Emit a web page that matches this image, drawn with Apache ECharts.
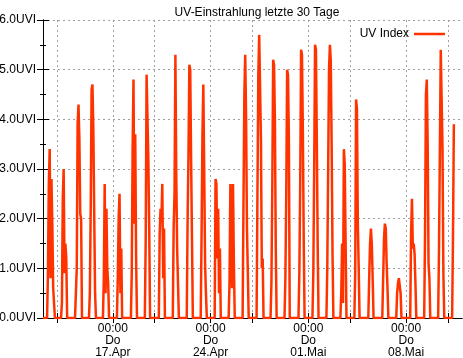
<!DOCTYPE html>
<html>
<head>
<meta charset="utf-8">
<script src="https://cdn.jsdelivr.net/npm/echarts@6/dist/echarts.min.js"></script>
<style>
  html, body { margin: 0; padding: 0; background: #fff; }
  #chart { width: 463px; height: 358px; }
</style>
</head>
<body>
<div id="chart"></div>
<script>
(() => {
  "use strict";

  // hours since 12.Apr 00:00; each day lists readings every 90 min from 07:00 on
  const firstHour = 7;
  const stepHours = 1.5;
  const uvDays = [
    [0, 0.9, 2.7, 3.4, 0.8, 2.8, 1.9, 0.6, 0.6, 0],
    [0, 0.3, 2.4, 3.0, 0.9, 1.5, 1.2, 0],
    [0, 0, 1.0, 3.9, 4.3, 3.6, 2.1, 2.0, 0],
    [0, 0.5, 2.2, 4.6, 4.7, 3.8, 2.1, 0.5, 0],
    [0, 0.8, 2.7, 0.5, 2.2, 1.0, 0.7, 0],
    [0, 0.8, 2.0, 2.5, 0.5, 1.4, 0],
    [0, 0.9, 3.4, 4.8, 1.9, 3.7, 1.2, 0],
    [0, 1.6, 4.9, 4.9, 3.2, 1.8, 0],
    [0, 1.7, 2.2, 2.0, 2.7, 0.8, 1.8, 0],
    [0, 1.8, 2.5, 5.3, 2.9, 1.4, 1.4, 0],
    [0, 2.0, 3.3, 5.1, 5.0, 3.2, 1.6, 0],
    [0, 1.7, 3.7, 4.7, 3.0, 1.1, 0.5, 0],
    [0, 2.8, 2.7, 1.2, 2.2, 0.5, 1.4, 0],
    [0, 0.7, 2.7, 2.7, 0.6, 2.7, 1.1, 0],
    [0, 2.3, 4.5, 5.3, 4.0, 1.8, 1.8, 0],
    [0, 2.5, 4.9, 5.7, 5.7, 3.6, 1.0, 1.2, 0],
    [0, 0.7, 2.6, 5.2, 5.1, 4.0, 1.4, 0],
    [0, 0.8, 2.5, 5.0, 4.9, 3.6, 0],
    [0, 0.9, 2.7, 5.4, 5.3, 3.8, 1.6, 0],
    [0, 0.9, 3.0, 5.5, 5.4, 3.6, 1.5, 0],
    [0, 1.0, 3.0, 5.0, 5.5, 5.2, 3.5, 1.3, 0],
    [0, 0.5, 1.5, 0.3, 3.4, 3.1, 1.5, 0],
    [0, 0.9, 4.4, 4.2, 1.9, 1.0, 0],
    [0, 0.8, 1.5, 1.8, 1.5, 0.8, 0],
    [0, 0, 1.6, 1.9, 1.8, 1.1, 0.6, 0],
    [0, 0.5, 0.7, 0.8, 0.8, 0.5, 0],
    [0, 1.7, 2.4, 1.4, 1.5, 1.3, 0.7, 0],
    [0, 1.7, 4.5, 4.8, 3.5, 1.1, 0.8, 0],
    [0, 1.4, 3.4, 5.4, 4.4, 3.4, 0.9, 0],
    [0, 1.6, 3.9],
  ];

  const labelHours = [120, 288, 456, 624];
  const tickLabels = ["17.Apr", "24.Apr", "01.Mai", "08.Mai"];
  const weekday = "Do";
  const gridHours = [24, 120, 192, 288, 360, 456, 528, 624, 696];
  const yMax = 6;

  const font = "Liberation Sans";
  const red = "#ff3300";
  const gridLine = { show: true, lineStyle: { color: "#a0a0a0", width: 1, type: [2, 3] } };

  const points = [];
  uvDays.forEach((day, d) => {
    points.push([d * 24, 0]);
    day.forEach((v, k) => points.push([d * 24 + firstHour + k * stepHours, v]));
  });

  const xLabel = (value) => {
    const i = labelHours.indexOf(value);
    return i < 0 ? "" : `00:00\n${weekday}\n${tickLabels[i]}`;
  };

  const baseX = {
    type: "value",
    min: 0,
    max: uvDays.length * 24,
    axisLine: { show: true, lineStyle: { color: "#000", width: 1 } },
    axisTick: { show: true, inside: true, length: 5, customValues: gridHours, lineStyle: { color: "#000" } },
  };
  const baseY = {
    type: "value",
    min: 0,
    max: yMax,
    interval: 1,
    axisLine: { show: true, lineStyle: { color: "#000", width: 1 } },
    axisTick: { show: true, inside: true, length: 6, lineStyle: { color: "#000" } },
    minorTick: { show: true, splitNumber: 2, length: 3, lineStyle: { color: "#000" } },
  };

  const chart = echarts.init(document.getElementById("chart"), null, { renderer: "canvas" });
  chart.setOption({
    animation: false,
    backgroundColor: "#fff",
    textStyle: { fontFamily: font },
    title: {
      text: "UV-Einstrahlung letzte 30 Tage",
      left: 252,
      top: 2,
      textAlign: "center",
      textStyle: { fontFamily: font, fontSize: 12, fontWeight: "normal", color: "#000" },
    },
    legend: {
      data: ["UV Index"],
      right: 13,
      top: 23,
      align: "right",
      icon: "rect",
      itemWidth: 31,
      itemHeight: 2.5,
      itemGap: 0,
      textStyle: { fontFamily: font, fontSize: 12, color: "#000" },
    },
    grid: { left: 43, right: 1, top: 20, bottom: 40, containLabel: false, outerBoundsMode: "none" },
    xAxis: [
      {
        ...baseX,
        position: "bottom",
        axisLabel: {
          customValues: labelHours,
          formatter: xLabel,
          color: "#000",
          fontFamily: font,
          fontSize: 12,
          lineHeight: 12,
          margin: 5,
        },
        splitLine: gridLine,
      },
      {
        ...baseX,
        position: "top",
        axisLabel: { show: false },
        splitLine: { show: false },
      },
    ],
    yAxis: [
      {
        ...baseY,
        position: "left",
        axisLabel: {
          formatter: (v) => `${v.toFixed(1)}UVI`,
          color: "#000",
          fontFamily: font,
          fontSize: 12,
          margin: 7,
        },
        splitLine: gridLine,
      },
      {
        ...baseY,
        position: "right",
        axisLabel: { show: false },
        splitLine: { show: false },
      },
    ],
    series: [
      {
        name: "UV Index",
        type: "line",
        xAxisIndex: 0,
        yAxisIndex: 0,
        symbol: "none",
        color: red,
        lineStyle: { color: red, width: 2.5, join: "bevel" },
        itemStyle: { color: red },
        data: points,
        z: 3,
      },
    ],
  });
})();
</script>
</body>
</html>
